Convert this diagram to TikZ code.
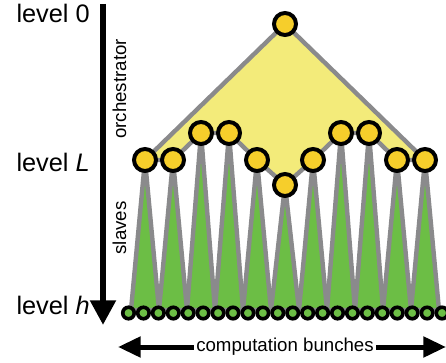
\documentclass[tikz,border=0pt]{standalone}
\usepackage{fontspec}
\setsansfont{Liberation Sans}
\usetikzlibrary{arrows.meta,shadows,backgrounds}

\tikzset{
  mnode/.style={circle, draw=black, line width=3pt, fill=nodeyellow,
    minimum size=16.5pt, inner sep=0pt,
    drop shadow={opacity=0.3, shadow xshift=0.4pt, shadow yshift=-1.3pt}},
  bnode/.style={circle, draw=black, line width=2.7pt, fill=slavegreen,
    minimum size=8.6pt, inner sep=0pt,
    drop shadow={opacity=0.3, shadow xshift=0.3pt, shadow yshift=-1.5pt}},
  link/.style={draw=linegray, line width=3.3pt, line join=round},
  levlabel/.style={anchor=base east, inner sep=0pt, font=\sffamily\fontsize{19}{19}\selectfont},
  sidelabel/.style={rotate=90, anchor=base, inner sep=0pt, font=\sffamily\fontsize{14}{14}\selectfont},
}

\begin{document}
\begin{tikzpicture}[x=0.75pt,y=-0.75pt,font=\sffamily]
  \definecolor{nodeyellow}{RGB}{246,206,43}
  \definecolor{areayellow}{RGB}{243,235,122}
  \definecolor{slavegreen}{RGB}{108,190,69}
  \definecolor{linegray}{RGB}{138,138,140}
  \useasboundingbox (0,0) rectangle (446,363);

  \node[mnode] (root) at (285,24) {};
  \foreach \i/\xx/\yy in {1/145/160, 2/173/160, 3/201/133, 4/229/133,
    5/257/160, 6/285/185, 7/313/160, 8/341/133, 9/369/133, 10/397/160,
    11/425/160} {
    \node[mnode] (m\i) at (\xx,\yy) {};
    \coordinate (sl\i) at (\xx-14,310);
    \coordinate (sr\i) at (\xx+14,310);
  }

  \foreach \k in {1,...,22}
    \node[bnode] (b\k) at ({128.5+14.93*(\k-1)},313) {};

  \begin{pgfonlayer}{background}
    \draw[link, fill=areayellow] (root.center)
      \foreach \i in {1,...,11} { -- (m\i.center) } -- cycle;
    \foreach \i in {1,...,11}
      \draw[link, fill=slavegreen] (m\i.center) -- (sl\i) -- (sr\i) -- cycle;
  \end{pgfonlayer}

  \coordinate (atop) at (103,4);
  \coordinate (abot) at (103,325);
  \draw[line width=4.5pt, -{Triangle[width=18.5pt,length=18.5pt]}] (atop) -- (abot);

  \node[levlabel] (lev0) at (90,22.5) {level 0};
  \node[levlabel] (levL) at (90,171.5) {level \textit{L}};
  \node[levlabel] (levh) at (90,315) {level \textit{h}};

  \node[sidelabel] (orch) at (126,89) {orchestrator};
  \node[sidelabel] (slaves) at (126,228) {slaves};

  \coordinate (cl) at (118,347);
  \coordinate (cr) at (446,347);
  \draw[line width=3.75pt, {Triangle[width=15pt,length=17pt]}-{Triangle[width=15pt,length=17pt]}] (cl) -- (cr);
  \node[fill=white, inner sep=1.5pt, font=\sffamily\fontsize{14}{14}\selectfont] (bunch) at (285,347) {computation bunches};
\end{tikzpicture}
\end{document}
